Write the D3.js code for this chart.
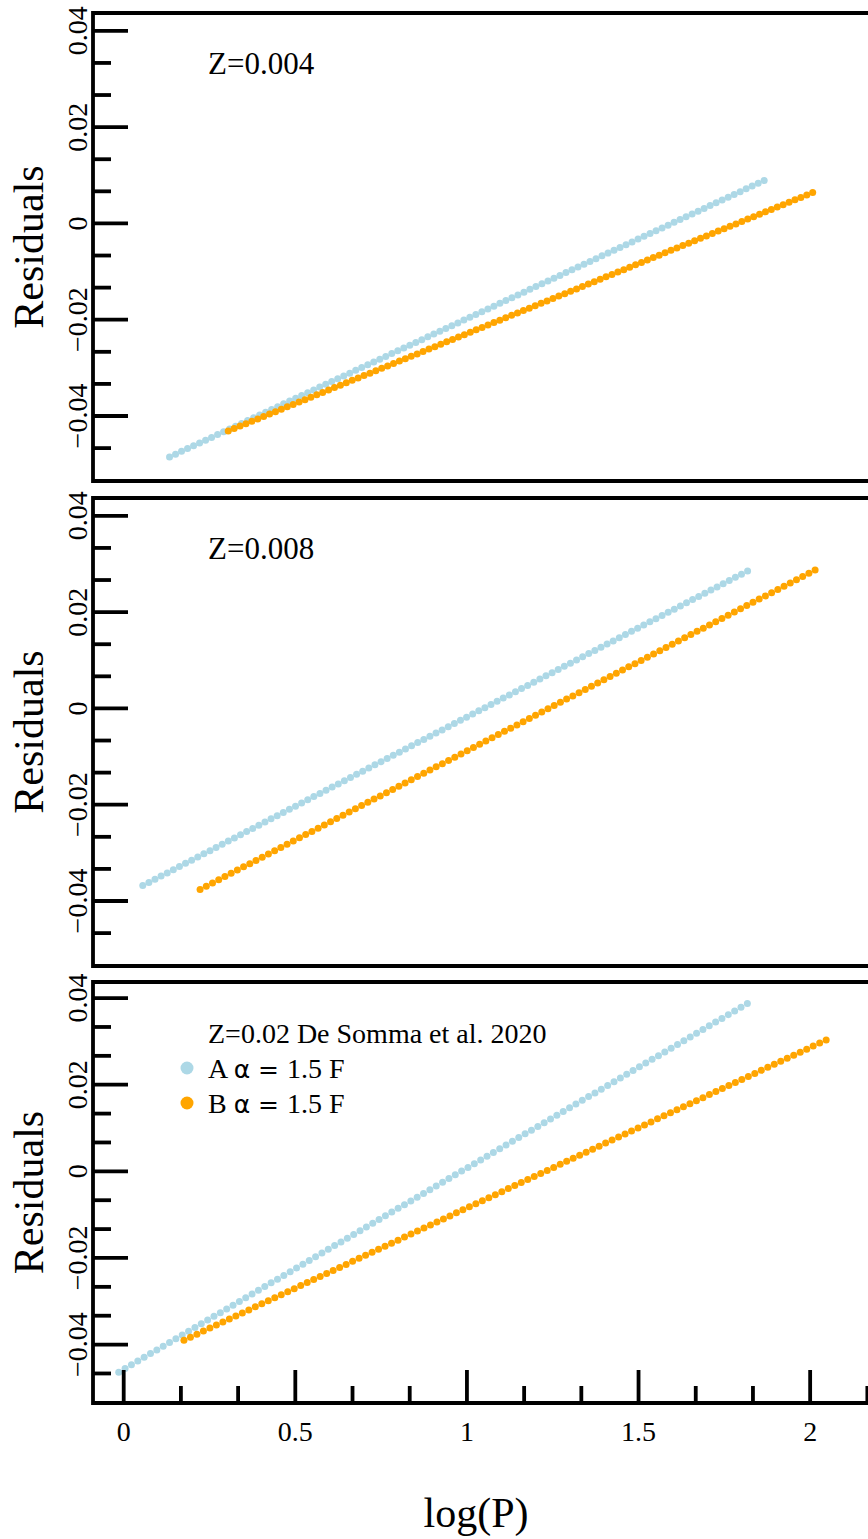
<!DOCTYPE html>
<html><head><meta charset="utf-8">
<script src="https://cdn.jsdelivr.net/npm/d3@7"></script>
<style>
body{margin:0;background:#fff}
svg{display:block}
text{font-family:"Liberation Serif","Times New Roman",serif;fill:#000}
.axis text{font-family:"Liberation Serif","Times New Roman",serif !important;font-size:28px !important;fill:#000 !important}
</style>
</head><body>
<svg id="c" width="868" height="1539"></svg>
<script>
// ---------- data ----------
const z004_A_logP = [0.135,0.1525,0.17,0.1875,0.205,0.2225,0.24,0.2575,0.275,0.2925,0.31,0.3275,0.345,0.3625,0.38,0.3975,0.415,0.4325,0.45,0.4675,0.485,0.5025,0.52,0.5375,0.555,0.5725,0.59,0.6075,0.625,0.6425,0.66,0.6775,0.695,0.7125,0.73,0.7475,0.765,0.7825,0.8,0.8175,0.835,0.8525,0.87,0.8875,0.905,0.9225,0.94,0.9575,0.975,0.9925,1.01,1.0275,1.045,1.0625,1.08,1.0975,1.115,1.1325,1.15,1.1675,1.185,1.2025,1.22,1.2375,1.255,1.2725,1.29,1.3075,1.325,1.3425,1.36,1.3775,1.395,1.4125,1.43,1.4475,1.465,1.4825,1.5,1.5175,1.535,1.5525,1.57,1.5875,1.605,1.6225,1.64,1.6575,1.675,1.6925,1.71,1.7275,1.745,1.7625,1.78,1.7975,1.815,1.8325,1.85,1.8675];
const z004_A_res = [-0.0486,-0.04802,-0.04744,-0.04686,-0.04628,-0.0457,-0.04512,-0.04454,-0.04396,-0.04338,-0.0428,-0.04222,-0.04164,-0.04106,-0.04048,-0.0399,-0.03932,-0.03874,-0.03816,-0.03758,-0.037,-0.03642,-0.03584,-0.03526,-0.03468,-0.0341,-0.03352,-0.03294,-0.03236,-0.03178,-0.0312,-0.03062,-0.03004,-0.02946,-0.02888,-0.0283,-0.02772,-0.02714,-0.02656,-0.02598,-0.0254,-0.02482,-0.02424,-0.02366,-0.02308,-0.0225,-0.02192,-0.02134,-0.02076,-0.02018,-0.0196,-0.01902,-0.01844,-0.01786,-0.01728,-0.0167,-0.01612,-0.01554,-0.01496,-0.01438,-0.0138,-0.01322,-0.01264,-0.01206,-0.01148,-0.0109,-0.01032,-0.00974,-0.00916,-0.00858,-0.008,-0.00742,-0.00684,-0.00626,-0.00568,-0.0051,-0.00452,-0.00394,-0.00336,-0.00278,-0.0022,-0.00162,-0.00104,-0.00046,0.00012,0.0007,0.00128,0.00186,0.00244,0.00302,0.0036,0.00418,0.00476,0.00534,0.00592,0.0065,0.00708,0.00766,0.00824,0.00882];
const z004_B_logP = [0.306,0.3232,0.3404,0.3576,0.3748,0.392,0.4092,0.4264,0.4436,0.4608,0.478,0.4952,0.5124,0.5296,0.5468,0.564,0.5812,0.5984,0.6156,0.6328,0.65,0.6672,0.6844,0.7016,0.7188,0.736,0.7532,0.7704,0.7876,0.8048,0.822,0.8392,0.8564,0.8736,0.8908,0.908,0.9252,0.9424,0.9596,0.9768,0.994,1.0112,1.0284,1.0456,1.0628,1.08,1.0972,1.1144,1.1316,1.1488,1.166,1.1832,1.2004,1.2176,1.2348,1.252,1.2692,1.2864,1.3036,1.3208,1.338,1.3552,1.3724,1.3896,1.4068,1.424,1.4412,1.4584,1.4756,1.4928,1.51,1.5272,1.5444,1.5616,1.5788,1.596,1.6132,1.6304,1.6476,1.6648,1.682,1.6992,1.7164,1.7336,1.7508,1.768,1.7852,1.8024,1.8196,1.8368,1.854,1.8712,1.8884,1.9056,1.9228,1.94,1.9572,1.9744,1.9916,2.0088];
const z004_B_res = [-0.0432,-0.0427,-0.0422,-0.0417,-0.0412,-0.0407,-0.0402,-0.0397,-0.0392,-0.0387,-0.0382,-0.0377,-0.0372,-0.0367,-0.0362,-0.0357,-0.0352,-0.0347,-0.0342,-0.0337,-0.0332,-0.0327,-0.0322,-0.0317,-0.0312,-0.0307,-0.0302,-0.0297,-0.0292,-0.0287,-0.0282,-0.0277,-0.0272,-0.0267,-0.0262,-0.0257,-0.0252,-0.0247,-0.0242,-0.0237,-0.0232,-0.0227,-0.0222,-0.0217,-0.0212,-0.0207,-0.0202,-0.0197,-0.0192,-0.0187,-0.0182,-0.0177,-0.0172,-0.0167,-0.0162,-0.0157,-0.0152,-0.0147,-0.0142,-0.0137,-0.0132,-0.0127,-0.0122,-0.0117,-0.0112,-0.0107,-0.0102,-0.0097,-0.0092,-0.0087,-0.0082,-0.0077,-0.0072,-0.0067,-0.0062,-0.0057,-0.0052,-0.0047,-0.0042,-0.0037,-0.0032,-0.0027,-0.0022,-0.0017,-0.0012,-0.0007,-0.0002,0.0003,0.0008,0.0013,0.0018,0.0023,0.0028,0.0033,0.0038,0.0043,0.0048,0.0053,0.0058,0.0063];

const z008_A_logP = [0.057,0.0748,0.0926,0.1104,0.1282,0.146,0.1638,0.1816,0.1994,0.2172,0.235,0.2528,0.2706,0.2884,0.3062,0.324,0.3418,0.3596,0.3774,0.3952,0.413,0.4308,0.4486,0.4664,0.4842,0.502,0.5198,0.5376,0.5554,0.5732,0.591,0.6088,0.6266,0.6444,0.6622,0.68,0.6978,0.7156,0.7334,0.7512,0.769,0.7868,0.8046,0.8224,0.8402,0.858,0.8758,0.8936,0.9114,0.9292,0.947,0.9648,0.9826,1.0004,1.0182,1.036,1.0538,1.0716,1.0894,1.1072,1.125,1.1428,1.1606,1.1784,1.1962,1.214,1.2318,1.2496,1.2674,1.2852,1.303,1.3208,1.3386,1.3564,1.3742,1.392,1.4098,1.4276,1.4454,1.4632,1.481,1.4988,1.5166,1.5344,1.5522,1.57,1.5878,1.6056,1.6234,1.6412,1.659,1.6768,1.6946,1.7124,1.7302,1.748,1.7658,1.7836,1.8014,1.8192];
const z008_A_res = [-0.0369,-0.03624,-0.03558,-0.03492,-0.03426,-0.0336,-0.03294,-0.03228,-0.03162,-0.03096,-0.0303,-0.02964,-0.02898,-0.02832,-0.02766,-0.027,-0.02634,-0.02568,-0.02502,-0.02436,-0.0237,-0.02304,-0.02238,-0.02172,-0.02106,-0.0204,-0.01974,-0.01908,-0.01842,-0.01776,-0.0171,-0.01644,-0.01578,-0.01512,-0.01446,-0.0138,-0.01314,-0.01248,-0.01182,-0.01116,-0.0105,-0.00984,-0.00918,-0.00852,-0.00786,-0.0072,-0.00654,-0.00588,-0.00522,-0.00456,-0.0039,-0.00324,-0.00258,-0.00192,-0.00126,-0.0006,0.00006,0.00072,0.00138,0.00204,0.0027,0.00336,0.00402,0.00468,0.00534,0.006,0.00666,0.00732,0.00798,0.00864,0.0093,0.00996,0.01062,0.01128,0.01194,0.0126,0.01326,0.01392,0.01458,0.01524,0.0159,0.01656,0.01722,0.01788,0.01854,0.0192,0.01986,0.02052,0.02118,0.02184,0.0225,0.02316,0.02382,0.02448,0.02514,0.0258,0.02646,0.02712,0.02778,0.02844];
const z008_B_logP = [0.224,0.2421,0.2602,0.2783,0.2964,0.3145,0.3326,0.3507,0.3688,0.3869,0.405,0.4231,0.4412,0.4593,0.4774,0.4955,0.5136,0.5317,0.5498,0.5679,0.586,0.6041,0.6222,0.6403,0.6584,0.6765,0.6946,0.7127,0.7308,0.7489,0.767,0.7851,0.8032,0.8213,0.8394,0.8575,0.8756,0.8937,0.9118,0.9299,0.948,0.9661,0.9842,1.0023,1.0204,1.0385,1.0566,1.0747,1.0928,1.1109,1.129,1.1471,1.1652,1.1833,1.2014,1.2195,1.2376,1.2557,1.2738,1.2919,1.31,1.3281,1.3462,1.3643,1.3824,1.4005,1.4186,1.4367,1.4548,1.4729,1.491,1.5091,1.5272,1.5453,1.5634,1.5815,1.5996,1.6177,1.6358,1.6539,1.672,1.6901,1.7082,1.7263,1.7444,1.7625,1.7806,1.7987,1.8168,1.8349,1.853,1.8711,1.8892,1.9073,1.9254,1.9435,1.9616,1.9797,1.9978,2.0159];
const z008_B_res = [-0.0377,-0.03703,-0.03636,-0.03569,-0.03502,-0.03435,-0.03368,-0.03301,-0.03234,-0.03167,-0.031,-0.03033,-0.02966,-0.02899,-0.02832,-0.02765,-0.02698,-0.02631,-0.02564,-0.02497,-0.0243,-0.02363,-0.02296,-0.02229,-0.02162,-0.02095,-0.02028,-0.01961,-0.01894,-0.01827,-0.0176,-0.01693,-0.01626,-0.01559,-0.01492,-0.01425,-0.01358,-0.01291,-0.01224,-0.01157,-0.0109,-0.01023,-0.00956,-0.00889,-0.00822,-0.00755,-0.00688,-0.00621,-0.00554,-0.00487,-0.0042,-0.00353,-0.00286,-0.00219,-0.00152,-0.00085,-0.00018,0.00049,0.00116,0.00183,0.0025,0.00317,0.00384,0.00451,0.00518,0.00585,0.00652,0.00719,0.00786,0.00853,0.0092,0.00987,0.01054,0.01121,0.01188,0.01255,0.01322,0.01389,0.01456,0.01523,0.0159,0.01657,0.01724,0.01791,0.01858,0.01925,0.01992,0.02059,0.02126,0.02193,0.0226,0.02327,0.02394,0.02461,0.02528,0.02595,0.02662,0.02729,0.02796,0.02863];

const z02_A_logP = [-0.013,0.0055,0.024,0.0425,0.061,0.0795,0.098,0.1165,0.135,0.1535,0.172,0.1905,0.209,0.2275,0.246,0.2645,0.283,0.3015,0.32,0.3385,0.357,0.3755,0.394,0.4125,0.431,0.4495,0.468,0.4865,0.505,0.5235,0.542,0.5605,0.579,0.5975,0.616,0.6345,0.653,0.6715,0.69,0.7085,0.727,0.7455,0.764,0.7825,0.801,0.8195,0.838,0.8565,0.875,0.8935,0.912,0.9305,0.949,0.9675,0.986,1.0045,1.023,1.0415,1.06,1.0785,1.097,1.1155,1.134,1.1525,1.171,1.1895,1.208,1.2265,1.245,1.2635,1.282,1.3005,1.319,1.3375,1.356,1.3745,1.393,1.4115,1.43,1.4485,1.467,1.4855,1.504,1.5225,1.541,1.5595,1.578,1.5965,1.615,1.6335,1.652,1.6705,1.689,1.7075,1.726,1.7445,1.763,1.7815,1.8,1.8185];
const z02_A_res = [-0.0465,-0.04564,-0.04478,-0.04392,-0.04306,-0.0422,-0.04134,-0.04048,-0.03962,-0.03876,-0.0379,-0.03704,-0.03618,-0.03532,-0.03446,-0.0336,-0.03274,-0.03188,-0.03102,-0.03016,-0.0293,-0.02844,-0.02758,-0.02672,-0.02586,-0.025,-0.02414,-0.02328,-0.02242,-0.02156,-0.0207,-0.01984,-0.01898,-0.01812,-0.01726,-0.0164,-0.01554,-0.01468,-0.01382,-0.01296,-0.0121,-0.01124,-0.01038,-0.00952,-0.00866,-0.0078,-0.00694,-0.00608,-0.00522,-0.00436,-0.0035,-0.00264,-0.00178,-0.00092,-0.00006,0.0008,0.00166,0.00252,0.00338,0.00424,0.0051,0.00596,0.00682,0.00768,0.00854,0.0094,0.01026,0.01112,0.01198,0.01284,0.0137,0.01456,0.01542,0.01628,0.01714,0.018,0.01886,0.01972,0.02058,0.02144,0.0223,0.02316,0.02402,0.02488,0.02574,0.0266,0.02746,0.02832,0.02918,0.03004,0.0309,0.03176,0.03262,0.03348,0.03434,0.0352,0.03606,0.03692,0.03778,0.03864];
const z02_B_logP = [0.177,0.1959,0.2148,0.2337,0.2526,0.2715,0.2904,0.3093,0.3282,0.3471,0.366,0.3849,0.4038,0.4227,0.4416,0.4605,0.4794,0.4983,0.5172,0.5361,0.555,0.5739,0.5928,0.6117,0.6306,0.6495,0.6684,0.6873,0.7062,0.7251,0.744,0.7629,0.7818,0.8007,0.8196,0.8385,0.8574,0.8763,0.8952,0.9141,0.933,0.9519,0.9708,0.9897,1.0086,1.0275,1.0464,1.0653,1.0842,1.1031,1.122,1.1409,1.1598,1.1787,1.1976,1.2165,1.2354,1.2543,1.2732,1.2921,1.311,1.3299,1.3488,1.3677,1.3866,1.4055,1.4244,1.4433,1.4622,1.4811,1.5,1.5189,1.5378,1.5567,1.5756,1.5945,1.6134,1.6323,1.6512,1.6701,1.689,1.7079,1.7268,1.7457,1.7646,1.7835,1.8024,1.8213,1.8402,1.8591,1.878,1.8969,1.9158,1.9347,1.9536,1.9725,1.9914,2.0103,2.0292,2.0481];
const z02_B_res = [-0.0391,-0.0384,-0.0377,-0.037,-0.0363,-0.0356,-0.0349,-0.0342,-0.0335,-0.0328,-0.0321,-0.0314,-0.0307,-0.03,-0.0293,-0.0286,-0.0279,-0.0272,-0.0265,-0.0258,-0.0251,-0.0244,-0.0237,-0.023,-0.0223,-0.0216,-0.0209,-0.0202,-0.0195,-0.0188,-0.0181,-0.0174,-0.0167,-0.016,-0.0153,-0.0146,-0.0139,-0.0132,-0.0125,-0.0118,-0.0111,-0.0104,-0.0097,-0.009,-0.0083,-0.0076,-0.0069,-0.0062,-0.0055,-0.0048,-0.0041,-0.0034,-0.0027,-0.002,-0.0013,-0.0006,0.0001,0.0008,0.0015,0.0022,0.0029,0.0036,0.0043,0.005,0.0057,0.0064,0.0071,0.0078,0.0085,0.0092,0.0099,0.0106,0.0113,0.012,0.0127,0.0134,0.0141,0.0148,0.0155,0.0162,0.0169,0.0176,0.0183,0.019,0.0197,0.0204,0.0211,0.0218,0.0225,0.0232,0.0239,0.0246,0.0253,0.026,0.0267,0.0274,0.0281,0.0288,0.0295,0.0302];

const panelTitles = ["Z=0.004", "Z=0.008", "Z=0.02 De Somma et al. 2020"];
const seriesNames = ["A", "B"];
const seriesColors = ["lightblue", "orange"];
const legendAlpha = "\u03B1";
const legendValue = "1.5 F";

const yMajorTicks = [-0.04, -0.02, 0, 0.02, 0.04];
const yMajorLabels = ["\u22120.04", "\u22120.02", "0", "0.02", "0.04"];
const yMinorTicks = [-0.046667, -0.033333, -0.026667, -0.013333, -0.006667, 0.006667, 0.013333, 0.026667, 0.033333];
const xMajorTicks = [0, 0.5, 1, 1.5, 2];
const xMajorLabels = ["0", "0.5", "1", "1.5", "2"];
const xMinorTicks = [0.166667, 0.333333, 0.666667, 0.833333, 1.166667, 1.333333, 1.666667, 1.833333, 2.166667];
const yDomain = [-0.0536, 0.0436];
const xDomain = [-0.088, 2.288];

const panelData = [
  [[z004_A_logP, z004_A_res], [z004_B_logP, z004_B_res]],
  [[z008_A_logP, z008_A_res], [z008_B_logP, z008_B_res]],
  [[z02_A_logP, z02_A_res], [z02_B_logP, z02_B_res]]
];

// ---------- layout ----------
const svg = d3.select("#c");
const LEFT = 93, RIGHT = 908.5;
const frames = [{top: 13, bottom: 481, title: 31}, {top: 498, bottom: 966, title: 31}, {top: 982, bottom: 1403, title: 28}];
const SW = 3.8;
const SERIF = '"Liberation Serif","Times New Roman",serif';
const x = d3.scaleLinear().domain(xDomain).range([LEFT, RIGHT]);

frames.forEach((f, pi) => {
  const y = d3.scaleLinear().domain(yDomain).range([f.bottom, f.top]);
  const g = svg.append("g");

  // points
  panelData[pi].forEach((s, si) => {
    const pts = s[0].map((v, i) => [v, s[1][i]]);
    g.append("g").selectAll("circle").data(pts).join("circle")
      .attr("cx", d => x(d[0])).attr("cy", d => y(d[1]))
      .attr("r", 3.5).attr("fill", seriesColors[si]);
  });

  // y axis major
  const ya = g.append("g").attr("class", "axis").attr("transform", `translate(${LEFT},0)`)
    .call(d3.axisLeft(y).tickValues(yMajorTicks).tickSize(-35).tickFormat((d, i) => yMajorLabels[i]));
  ya.attr("font-family", SERIF).attr("font-size", 28);
  ya.select(".domain").remove();
  ya.selectAll(".tick line").attr("stroke", "#000").attr("stroke-width", SW);
  ya.selectAll(".tick text")
    .attr("x", 0).attr("y", -6).attr("dy", null)
    .attr("transform", "rotate(-90)")
    .attr("text-anchor", "middle")
    .attr("font-family", SERIF).attr("font-size", 28).attr("fill", "#000");
  // y axis minor
  const ym = g.append("g").attr("transform", `translate(${LEFT},0)`)
    .call(d3.axisLeft(y).tickValues(yMinorTicks).tickSize(-18).tickFormat(""));
  ym.select(".domain").remove();
  ym.selectAll(".tick line").attr("stroke", "#000").attr("stroke-width", SW);
  ym.selectAll(".tick text").remove();

  // y label
  g.append("text")
    .attr("transform", `translate(43,${(f.top + f.bottom) / 2}) rotate(-90)`)
    .attr("text-anchor", "middle")
    .attr("font-size", 42)
    .text("Residuals");

  // frame
  g.append("path")
    .attr("d", `M${RIGHT},${f.top}H${LEFT}V${f.bottom}H${RIGHT}`)
    .attr("fill", "none").attr("stroke", "#000").attr("stroke-width", SW)
    .attr("stroke-linejoin", "miter");

  // title
  g.append("text").attr("x", 208).attr("y", f.top + 61)
    .attr("font-size", f.title).text(panelTitles[pi]);

  if (pi === 2) {
    // x axis
    const xa = g.append("g").attr("class", "axis").attr("transform", `translate(0,${f.bottom})`)
      .call(d3.axisBottom(x).tickValues(xMajorTicks).tickSize(-33).tickFormat((d, i) => xMajorLabels[i]));
    xa.attr("font-family", SERIF).attr("font-size", 28);
    xa.select(".domain").remove();
    xa.selectAll(".tick line").attr("stroke", "#000").attr("stroke-width", SW);
    xa.selectAll(".tick text").attr("y", 38).attr("dy", null)
      .attr("font-family", SERIF).attr("font-size", 28).attr("fill", "#000");
    const xm = g.append("g").attr("transform", `translate(0,${f.bottom})`)
      .call(d3.axisBottom(x).tickValues(xMinorTicks).tickSize(-17).tickFormat(""));
    xm.select(".domain").remove();
    xm.selectAll(".tick line").attr("stroke", "#000").attr("stroke-width", SW);
    xm.selectAll(".tick text").remove();

    g.append("text").attr("x", 476).attr("y", 1527)
      .attr("text-anchor", "middle").attr("font-size", 42).text("log(P)");

    // legend
    seriesNames.forEach((nm, si) => {
      const cy = f.top + 86 + si * 35;
      g.append("circle").attr("cx", 187).attr("cy", cy).attr("r", 6.5).attr("fill", seriesColors[si]);
      const t = g.append("text").attr("x", 208).attr("y", cy + 10).attr("font-size", 28);
      t.append("tspan").text(nm + " ");
      t.append("tspan").attr("font-family", '"DejaVu Sans",sans-serif').attr("font-size", 25).text(legendAlpha + " = ");
      t.append("tspan").text(legendValue);
    });
  }
});
</script>
</body></html>
